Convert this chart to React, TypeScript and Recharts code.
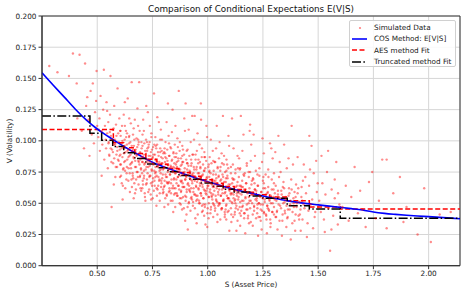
import React from "react";
import {
  ComposedChart,
  Scatter,
  Line,
  XAxis,
  YAxis,
  CartesianGrid,
  ReferenceArea,
} from "recharts";

// ---------------- data ----------------
const xTicks = [0.5, 0.75, 1.0, 1.25, 1.5, 1.75, 2.0];
const yTicks = [0, 0.025, 0.05, 0.075, 0.1, 0.125, 0.15, 0.175, 0.2];
const xDomain = [0.25, 2.142];
const yDomain = [0, 0.2];

// Simulated (S, V) points, read approximately from the cloud: wide spread
const simulatedOuter: [number, number][] = [
  [.283,.160],[.32,.155],[.372,.152],[.39,.170],[.407,.146],[.42,.169],[.445,.162],[.45,.128],[.46,.117],[.43,.108],[.47,.140],[.48,.146],[.485,.098],[.49,.123],[.497,.156],[.44,.094],[.475,.105],[.495,.132],[.465,.088],[.5,.112],[.41,.118],[.455,.135],
  [.505,.103],[.51,.118],[.512,.092],[.515,.136],[.52,.108],[.523,.097],[.527,.125],[.53,.157],[.532,.085],[.535,.112],[.538,.101],[.54,.094],[.542,.131],[.545,.106],[.548,.078],[.55,.115],[.552,.099],[.555,.088],[.558,.121],[.56,.152],[.562,.104],[.565,.047],[.567,.093],[.57,.109],[.572,.082],[.575,.097],[.577,.128],[.58,.101],[.582,.071],[.585,.113],[.587,.089],[.59,.095],[.592,.142],[.595,.106],[.597,.084],[.6,.118],[.52,.072],[.545,.124],[.575,.065],[.59,.079],
  [.602,.093],[.604,.081],[.606,.104],[.608,.072],[.61,.098],[.612,.112],[.614,.087],[.616,.064],[.618,.095],[.62,.121],[.622,.083],[.624,.101],[.626,.076],[.628,.091],[.63,.108],[.632,.069],[.634,.097],[.636,.085],[.638,.134],[.64,.093],[.642,.078],[.644,.103],[.646,.088],[.648,.059],[.65,.099],[.652,.114],[.654,.082],[.656,.147],[.658,.092],[.66,.074],[.662,.105],[.664,.087],[.666,.096],[.668,.066],[.67,.117],[.672,.084],[.674,.093],[.676,.079],[.678,.102],[.68,.089],[.682,.126],[.684,.071],[.686,.097],[.688,.083],[.69,.147],[.692,.108],[.694,.091],[.696,.062],[.698,.077],[.7,.099],[.615,.053],[.645,.118],[.665,.054],[.685,.112],[.635,.106],[.655,.069],[.675,.061],[.625,.131],[.695,.085],[.605,.089],
  [.701,.087],[.703,.074],[.705,.096],[.707,.065],[.709,.089],[.711,.108],[.713,.081],[.715,.058],[.717,.092],[.719,.077],[.721,.101],[.723,.085],[.725,.069],[.727,.094],[.729,.123],[.731,.079],[.733,.088],[.735,.061],[.737,.099],[.739,.083],[.741,.072],[.743,.091],[.745,.106],[.747,.076],[.749,.086],[.751,.054],[.753,.095],[.755,.081],[.757,.138],[.759,.068],[.761,.089],[.763,.103],[.765,.075],[.767,.084],[.769,.062],[.771,.097],[.773,.079],[.775,.091],[.777,.071],[.779,.115],[.781,.083],[.783,.058],[.785,.094],[.787,.077],[.789,.087],[.791,.066],[.793,.101],[.795,.082],[.797,.073],[.799,.09],[.708,.117],[.718,.052],[.728,.083],[.738,.112],[.748,.064],[.758,.097],[.768,.048],[.778,.081],[.788,.109],[.798,.061],[.712,.072],[.722,.128],[.732,.095],[.742,.057],[.752,.087],[.762,.074],[.772,.119],[.782,.069],[.792,.092],[.706,.083],
  [.801,.078],[.803,.091],[.805,.064],[.807,.083],[.809,.099],[.811,.071],[.813,.086],[.815,.056],[.817,.093],[.819,.075],[.821,.081],[.823,.104],[.825,.067],[.827,.088],[.829,.073],[.831,.095],[.833,.052],[.835,.079],[.837,.084],[.839,.062],[.841,.125],[.843,.076],[.845,.09],[.847,.069],[.849,.082],[.851,.097],[.853,.058],[.855,.074],[.857,.087],[.859,.066],[.861,.079],[.863,.102],[.865,.071],[.867,.084],[.869,.14],[.871,.061],[.873,.092],[.875,.077],[.877,.068],[.879,.086],[.881,.054],[.883,.081],[.885,.096],[.887,.073],[.889,.083],[.891,.063],[.893,.089],[.895,.075],[.897,.108],[.899,.069],[.804,.047],[.814,.115],[.824,.059],[.834,.094],[.844,.043],[.854,.112],[.864,.056],[.874,.099],[.884,.045],[.894,.118],[.808,.087],[.818,.066],[.828,.078],[.838,.107],[.848,.057],[.858,.09],[.868,.075],[.878,.049],[.888,.093],[.898,.036],[.82,.13],[.86,.083],[.88,.067],[.9,.13],[.85,.078],
  [.901,.072],[.903,.085],[.905,.059],[.907,.077],[.909,.093],[.911,.066],[.913,.08],[.915,.051],[.917,.088],[.919,.07],[.921,.075],[.923,.099],[.925,.062],[.927,.082],[.929,.068],[.931,.089],[.933,.048],[.935,.074],[.937,.079],[.939,.057],[.941,.12],[.943,.071],[.945,.085],[.947,.064],[.949,.077],[.951,.092],[.953,.053],[.955,.069],[.957,.082],[.959,.061],[.961,.074],[.963,.097],[.965,.066],[.967,.079],[.969,.13],[.971,.056],[.973,.087],[.975,.072],[.977,.063],[.979,.081],[.981,.049],[.983,.076],[.985,.091],[.987,.068],[.989,.078],[.991,.058],[.993,.084],[.995,.07],[.997,.103],[.999,.064],[.904,.041],[.914,.109],[.924,.054],[.934,.089],[.944,.038],[.954,.106],[.964,.05],[.974,.094],[.984,.04],[.994,.112],[.908,.082],[.918,.06],[.928,.073],[.938,.101],[.948,.052],[.958,.085],[.968,.07],[.978,.044],[.988,.087],[.998,.031],[.91,.029],[.93,.12],[.95,.034],[.97,.117],[.99,.033],
  [1.001,.067],[1.003,.079],[1.005,.055],[1.007,.071],[1.009,.087],[1.011,.061],[1.013,.074],[1.015,.047],[1.017,.082],[1.019,.065],[1.021,.069],[1.023,.092],[1.025,.057],[1.027,.076],[1.029,.063],[1.031,.083],[1.033,.044],[1.035,.068],[1.037,.073],[1.039,.052],[1.041,.112],[1.043,.066],[1.045,.079],[1.047,.059],[1.049,.071],[1.051,.086],[1.053,.049],[1.055,.064],[1.057,.076],[1.059,.056],[1.061,.069],[1.063,.09],[1.065,.061],[1.067,.073],[1.069,.12],[1.071,.052],[1.073,.081],[1.075,.067],[1.077,.058],[1.079,.075],[1.081,.045],[1.083,.07],[1.085,.085],[1.087,.063],[1.089,.072],[1.091,.054],[1.093,.078],[1.095,.065],[1.097,.096],[1.099,.06],[1.004,.038],[1.014,.101],[1.024,.05],[1.034,.083],[1.044,.035],[1.054,.099],[1.064,.046],[1.074,.088],[1.084,.037],[1.094,.104],[1.008,.076],[1.018,.056],[1.028,.068],[1.038,.094],[1.048,.048],[1.058,.079],[1.068,.065],[1.078,.041],[1.088,.081],[1.098,.028],
  [1.102,.062],[1.105,.074],[1.108,.051],[1.111,.066],[1.114,.081],[1.117,.057],[1.12,.069],[1.123,.043],[1.126,.077],[1.129,.06],[1.132,.064],[1.135,.088],[1.138,.053],[1.141,.071],[1.144,.058],[1.147,.078],[1.15,.04],[1.153,.063],[1.156,.068],[1.159,.048],[1.162,.105],[1.165,.061],[1.168,.074],[1.171,.055],[1.174,.066],[1.177,.08],[1.18,.045],[1.183,.059],[1.186,.071],[1.189,.052],[1.192,.113],[1.195,.084],[1.198,.057],[1.2,.068],[1.107,.035],[1.117,.094],[1.127,.046],[1.137,.078],[1.147,.032],[1.157,.092],[1.167,.042],[1.177,.082],[1.187,.034],[1.197,.097],[1.11,.118],[1.13,.028],[1.15,.12],[1.17,.026],[1.19,.108],[1.112,.07],[1.122,.052],[1.132,.056],[1.142,.086],[1.152,.044],[1.162,.073],[1.172,.061],[1.182,.038],[1.192,.075],[1.104,.058],[1.144,.064],
  [1.202,.057],[1.206,.069],[1.21,.047],[1.214,.061],[1.218,.076],[1.222,.052],[1.226,.064],[1.23,.039],[1.234,.072],[1.238,.055],[1.242,.059],[1.246,.083],[1.25,.049],[1.254,.066],[1.258,.053],[1.262,.073],[1.266,.037],[1.27,.058],[1.274,.063],[1.278,.044],[1.282,.098],[1.286,.056],[1.29,.069],[1.294,.05],[1.298,.061],[1.204,.032],[1.214,.088],[1.224,.042],[1.234,.078],[1.244,.029],[1.254,.09],[1.264,.041],[1.274,.077],[1.284,.031],[1.294,.086],[1.208,.105],[1.228,.024],[1.248,.102],[1.268,.026],[1.288,.094],[1.212,.066],[1.232,.05],[1.252,.071],[1.272,.046],[1.292,.043],[1.22,.06],[1.24,.045],[1.26,.062],[1.28,.052],[1.3,.074],
  [1.303,.053],[1.308,.064],[1.313,.043],[1.318,.057],[1.323,.071],[1.328,.048],[1.333,.06],[1.338,.036],[1.343,.067],[1.348,.051],[1.353,.055],[1.358,.078],[1.363,.045],[1.368,.062],[1.373,.049],[1.378,.069],[1.383,.034],[1.388,.054],[1.393,.059],[1.398,.041],[1.306,.091],[1.316,.029],[1.326,.083],[1.336,.024],[1.346,.097],[1.356,.031],[1.366,.086],[1.376,.021],[1.386,.081],[1.396,.028],[1.31,.039],[1.33,.075],[1.35,.042],[1.37,.058],[1.39,.047],[1.32,.104],[1.34,.063],[1.36,.038],[1.38,.112],[1.4,.065],
  [1.403,.05],[1.41,.062],[1.417,.041],[1.424,.055],[1.431,.068],[1.438,.046],[1.445,.058],[1.452,.034],[1.459,.064],[1.466,.049],[1.473,.053],[1.48,.074],[1.487,.043],[1.494,.059],[1.5,.047],[1.407,.087],[1.421,.028],[1.435,.081],[1.449,.023],[1.463,.077],[1.477,.03],[1.491,.084],[1.414,.037],[1.428,.052],[1.442,.071],[1.456,.044],[1.47,.096],[1.484,.039],[1.498,.066],[1.46,.104],
  [1.505,.052],[1.512,.043],[1.519,.066],[1.526,.037],[1.533,.057],[1.54,.075],[1.547,.046],[1.554,.012],[1.561,.061],[1.568,.04],[1.575,.054],[1.582,.083],[1.589,.033],[1.596,.049],[1.515,.088],[1.53,.027],[1.545,.092],[1.56,.029],[1.575,.069],[1.59,.058],
  [1.61,.047],[1.625,.064],[1.638,.036],[1.65,.055],[1.665,.079],[1.68,.042],[1.69,.06],[1.70,.045],[1.715,.031],[1.73,.067],[1.745,.075],[1.76,.038],[1.775,.052],[1.79,.085],[1.81,.03],
  [1.81,.085],[1.84,.058],[1.886,.035],[1.9,.047],[1.95,.025],[1.98,.062],[2.01,.019],[2.05,.041],[2.1,.043],[1.87,.071],
];

// Simulated (S, V) points in the dense core of the cloud
const simulatedCore: [number, number][] = [
  [.551,.098],[.554,.089],[.557,.107],[.561,.094],[.564,.083],[.567,.101],[.571,.091],[.574,.11],[.577,.086],[.581,.097],[.584,.079],[.587,.104],[.591,.092],[.594,.085],[.597,.099],[.601,.088],[.604,.108],[.607,.081],[.611,.094],[.614,.1],[.617,.077],[.621,.09],[.624,.096],[.627,.084],[.631,.103],[.634,.079],[.637,.092],[.641,.087],[.644,.098],[.647,.074],
  [.651,.089],[.653,.078],[.656,.096],[.658,.083],[.661,.072],[.663,.093],[.666,.086],[.668,.101],[.671,.079],[.673,.091],[.676,.069],[.678,.088],[.681,.095],[.683,.075],[.686,.084],[.688,.099],[.691,.081],[.693,.071],[.696,.09],[.698,.078],[.701,.094],[.703,.083],[.706,.068],[.708,.087],[.711,.076],[.713,.098],[.716,.082],[.718,.089],[.721,.065],[.723,.079],[.726,.092],[.728,.074],[.731,.085],[.733,.097],[.736,.071],[.738,.08],[.741,.088],[.743,.066],[.746,.077],[.748,.093],
  [.751,.082],[.753,.07],[.755,.089],[.758,.076],[.76,.064],[.762,.085],[.764,.079],[.767,.094],[.769,.072],[.771,.083],[.773,.061],[.776,.08],[.778,.088],[.78,.068],[.782,.076],[.785,.091],[.787,.074],[.789,.063],[.791,.082],[.794,.07],[.796,.086],[.798,.077],[.8,.059],[.803,.079],[.805,.068],[.807,.09],[.809,.073],[.812,.081],[.814,.057],[.816,.071],[.818,.084],[.821,.066],[.823,.077],[.825,.088],[.827,.062],[.83,.073],[.832,.08],[.834,.058],[.836,.069],[.839,.085],[.841,.075],[.843,.064],[.845,.079],[.848,.07],[.85,.087],
  [.852,.074],[.854,.062],[.856,.081],[.858,.069],[.861,.056],[.863,.077],[.865,.071],[.867,.086],[.869,.064],[.872,.075],[.874,.054],[.876,.072],[.878,.08],[.88,.06],[.883,.068],[.885,.083],[.887,.066],[.889,.055],[.891,.074],[.894,.063],[.896,.078],[.898,.069],[.9,.052],[.903,.071],[.905,.061],[.907,.082],[.909,.065],[.912,.073],[.914,.05],[.916,.064],[.918,.076],[.921,.059],[.923,.069],[.925,.08],[.927,.055],[.93,.066],[.932,.072],[.934,.051],[.936,.062],[.939,.077],[.941,.068],[.943,.057],[.945,.071],[.948,.063],[.95,.079],
  [.952,.067],[.954,.056],[.956,.074],[.958,.062],[.961,.05],[.963,.07],[.965,.064],[.967,.078],[.969,.058],[.972,.068],[.974,.048],[.976,.065],[.978,.073],[.98,.054],[.983,.061],[.985,.076],[.987,.06],[.989,.049],[.991,.067],[.994,.057],[.996,.071],[.998,.062],[1.0,.046],[1.003,.064],[1.005,.055],[1.007,.075],[1.009,.059],[1.012,.066],[1.014,.045],[1.016,.058],[1.018,.069],[1.021,.053],[1.023,.063],[1.025,.073],[1.027,.049],[1.03,.06],[1.032,.065],[1.034,.046],[1.036,.056],[1.039,.07],[1.041,.062],[1.043,.051],[1.045,.064],[1.048,.057],[1.05,.072],
  [1.052,.061],[1.055,.05],[1.057,.068],[1.06,.056],[1.062,.045],[1.065,.064],[1.067,.058],[1.07,.071],[1.072,.053],[1.075,.062],[1.077,.043],[1.08,.059],[1.082,.067],[1.085,.049],[1.087,.056],[1.09,.07],[1.092,.054],[1.095,.044],[1.097,.061],[1.1,.052],[1.102,.065],[1.105,.057],[1.107,.041],[1.11,.058],[1.112,.05],[1.115,.069],[1.117,.054],[1.12,.06],[1.122,.041],[1.125,.053],[1.127,.063],[1.13,.048],[1.132,.058],[1.135,.067],[1.137,.045],[1.14,.055],[1.142,.06],[1.145,.042],[1.147,.051],[1.15,.064],
  [1.153,.057],[1.156,.047],[1.159,.063],[1.162,.052],[1.165,.042],[1.168,.06],[1.171,.054],[1.174,.066],[1.177,.049],[1.18,.058],[1.183,.04],[1.186,.055],[1.189,.062],[1.192,.046],[1.195,.052],[1.198,.065],[1.201,.05],[1.204,.041],[1.207,.057],[1.21,.048],[1.213,.061],[1.216,.053],[1.219,.038],[1.222,.054],[1.225,.046],[1.228,.064],[1.231,.05],[1.234,.056],[1.237,.039],[1.24,.049],[1.243,.059],[1.246,.044],[1.249,.054],[1.252,.062],[1.255,.042],
  [1.258,.051],[1.262,.057],[1.265,.04],[1.269,.048],[1.272,.059],[1.276,.045],[1.279,.053],[1.283,.037],[1.286,.05],[1.29,.061],[1.293,.043],[1.297,.055],[1.3,.047],[1.304,.058],[1.307,.039],[1.311,.052],[1.314,.044],[1.318,.06],[1.321,.049],[1.325,.036],[1.328,.054],[1.332,.046],[1.335,.057],[1.339,.041],[1.342,.05],[1.346,.062],[1.349,.044],[1.353,.053],
  [1.357,.048],[1.362,.039],[1.366,.056],[1.371,.045],[1.375,.052],[1.38,.061],[1.384,.043],[1.389,.05],[1.393,.036],[1.398,.055],[1.402,.047],[1.407,.058],[1.411,.04],[1.416,.051],[1.42,.045],[1.425,.063],[1.429,.037],[1.434,.049],
];

// Simulated (S, V) points filling the band just below and above the core
const simulatedFill: [number, number][] = [
  [.603,.071],[.611,.066],[.619,.078],[.627,.062],[.633,.074],[.641,.068],[.649,.081],[.657,.063],[.663,.07],[.671,.058],[.679,.075],[.687,.065],[.694,.072],[.699,.06],
  [.704,.062],[.711,.07],[.716,.055],[.724,.066],[.731,.059],[.737,.072],[.744,.053],[.75,.067],[.756,.06],[.763,.071],[.77,.056],[.776,.064],[.783,.052],[.79,.068],[.797,.058],
  [.802,.063],[.808,.054],[.815,.067],[.821,.049],[.828,.06],[.834,.066],[.841,.052],[.847,.062],[.853,.047],[.86,.058],[.866,.064],[.873,.05],[.879,.059],[.886,.063],[.892,.046],[.898,.056],
  [.903,.055],[.909,.047],[.916,.061],[.922,.044],[.929,.053],[.935,.059],[.942,.046],[.948,.056],[.955,.041],[.961,.052],[.968,.058],[.974,.043],[.981,.054],[.987,.047],[.994,.06],[.999,.042],
  [1.005,.05],[1.012,.042],[1.018,.055],[1.025,.039],[1.031,.048],[1.038,.053],[1.044,.041],[1.051,.05],[1.057,.037],[1.064,.046],[1.07,.052],[1.077,.039],[1.083,.048],[1.09,.043],[1.096,.054],
  [1.105,.046],[1.115,.039],[1.125,.05],[1.135,.036],[1.145,.047],[1.155,.052],[1.165,.038],[1.175,.045],[1.185,.05],[1.195,.035],[1.21,.044],[1.225,.049],[1.24,.036],[1.255,.043],[1.27,.048],[1.285,.034],[1.3,.041],
  [.605,.108],[.625,.112],[.645,.104],[.665,.11],[.685,.101],[.705,.105],[.725,.099],[.745,.103],[.765,.096],[.785,.101],[.805,.094],[.825,.098],[.845,.091],[.865,.095],[.885,.088],[.905,.092],[.925,.085],[.945,.089],[.965,.083],[.985,.087],[1.005,.081],[1.025,.084],[1.045,.078],[1.065,.082],[1.085,.076],[1.105,.079],[1.125,.074],[1.145,.077],[1.165,.072],[1.185,.075],[1.205,.07],[1.225,.073],[1.25,.068],[1.275,.071],[1.3,.066],
];

// COS method E[V|S] curve
const cosS = [0.25,0.30,0.35,0.40,0.45,0.50,0.55,0.60,0.65,0.70,0.75,0.80,0.85,0.90,0.95,1.00,1.05,1.10,1.15,1.20,1.25,1.30,1.35,1.40,1.45,1.50,1.55,1.60,1.65,1.70,1.75,1.80,1.85,1.90,1.95,2.00,2.05,2.10,2.142];
const cosV = [.1546,.1448,.1352,.1255,.1168,.1095,.1035,.0978,.0925,.0876,.0828,.0792,.0760,.0730,.0700,.0673,.0646,.0620,.0598,.0578,.0558,.0540,.0524,.0509,.0497,.0487,.0477,.0467,.0457,.0446,.0430,.0419,.0411,.0404,.0398,.0393,.0387,.0381,.0376];

// AES method fit (piecewise constant, bin start S -> value)
const aesS = [0.25,0.573,0.62,0.67,0.72,0.77,0.82,0.87,0.92,0.97,1.02,1.07,1.12,1.17,1.22,1.28,1.36,1.46,1.60,2.142];
const aesV = [.109,.0985,.0945,.0898,.0853,.0812,.0778,.0747,.0717,.0688,.0660,.0634,.0610,.0588,.0568,.0550,.0520,.0470,.0455,.0455];

// Truncated method fit (piecewise constant)
const truncS = [0.25,0.467,0.52,0.57,0.62,0.67,0.72,0.77,0.82,0.87,0.92,0.97,1.02,1.07,1.12,1.19,1.25,1.36,1.46,1.60,2.142];
const truncV = [.120,.106,.1005,.0955,.0905,.0858,.0815,.0785,.0752,.0722,.0692,.0663,.0637,.0612,.0590,.0558,.0540,.0480,.0455,.0380,.0380];

const simData = [...simulatedOuter, ...simulatedCore, ...simulatedFill].map(([s, v]) => ({ s, v }));
const cosData = cosS.map((s, i) => ({ s, v: cosV[i] }));
const aesData = aesS.map((s, i) => ({ s, v: aesV[i] }));
const truncData = truncS.map((s, i) => ({ s, v: truncV[i] }));

const FONT = "DejaVu Sans, sans-serif";
const TICK = { fontSize: 7.3, fill: "#222", fontFamily: FONT };

const Dot = (props: any) => {
  const { cx, cy } = props;
  if (cx == null || cy == null) return null;
  return <circle cx={cx} cy={cy} r={1.2} fill="#ff0000" fillOpacity={0.45} />;
};

const legendItems = [
  { label: "Simulated Data", kind: "dot" },
  { label: "COS Method: E[V|S]", kind: "blue" },
  { label: "AES method Fit", kind: "red" },
  { label: "Truncated method Fit", kind: "black" },
];

const Handle = ({ kind }: { kind: string }) => (
  <svg width={16} height={8} style={{ display: "block" }}>
    {kind === "dot" && <circle cx={8} cy={4} r={1.1} fill="#ff0000" fillOpacity={0.5} />}
    {kind === "blue" && <line x1={0} y1={4} x2={15} y2={4} stroke="#0000ff" strokeWidth={1.6} />}
    {kind === "red" && <line x1={0} y1={4} x2={15} y2={4} stroke="#ff0000" strokeWidth={1.5} strokeDasharray="5 2.5" />}
    {kind === "black" && <line x1={0} y1={4} x2={15} y2={4} stroke="#000" strokeWidth={1.5} strokeDasharray="9 2.4 1.5 2.4" />}
  </svg>
);

export default function App() {
  return (
    <div style={{ position: "absolute", left: 0, top: 0, width: 465, height: 294, background: "#fff", fontFamily: FONT }}>
      <ComposedChart width={465} height={294} margin={{ top: 16, right: 5, bottom: 0, left: 0 }}>
        <CartesianGrid stroke="#d6d6d6" strokeWidth={1} />
        <XAxis
          type="number"
          dataKey="s"
          domain={xDomain}
          ticks={xTicks}
          allowDataOverflow
          tickFormatter={(v: number) => v.toFixed(2)}
          height={28.3}
          tickSize={3.5}
          tickMargin={1.5}
          stroke="#333"
          tick={TICK}
        />
        <YAxis
          type="number"
          dataKey="v"
          domain={yDomain}
          ticks={yTicks}
          allowDataOverflow
          tickFormatter={(v: number) => v.toFixed(3)}
          width={42}
          tickSize={3.5}
          tickMargin={2}
          stroke="#333"
          tick={TICK}
        />
        <ReferenceArea x1={xDomain[0]} x2={xDomain[1]} y1={yDomain[0]} y2={yDomain[1]} fill="none" stroke="#333" strokeWidth={1} ifOverflow="visible" />
        <Scatter data={simData} dataKey="v" shape={Dot} isAnimationActive={false} />
        <Line data={aesData} dataKey="v" type="stepAfter" stroke="#ff0000" strokeWidth={1.5} strokeDasharray="5 2.5" dot={false} isAnimationActive={false} />
        <Line data={cosData} dataKey="v" type="monotone" stroke="#0000ff" strokeWidth={1.6} dot={false} isAnimationActive={false} />
        <Line data={truncData} dataKey="v" type="stepAfter" stroke="#000000" strokeWidth={1.5} strokeDasharray="9 2.4 1.5 2.4" dot={false} isAnimationActive={false} />
      </ComposedChart>

      <div style={{ position: "absolute", left: 42, width: 418, top: 3, textAlign: "center", fontSize: 8.8, lineHeight: "12px", color: "#111" }}>
        Comparison of Conditional Expectations E(V|S)
      </div>
      <div style={{ position: "absolute", left: 42, width: 418, top: 279, textAlign: "center", fontSize: 7.3, lineHeight: "12px", color: "#222" }}>
        S (Asset Price)
      </div>
      <div
        style={{
          position: "absolute",
          left: 10,
          top: 141,
          transform: "translate(-50%, -50%) rotate(-90deg)",
          fontSize: 7.3,
          lineHeight: "10px",
          whiteSpace: "nowrap",
          color: "#222",
        }}
      >
        V (Volatility)
      </div>

      <div
        style={{
          position: "absolute",
          left: 349,
          top: 20,
          width: 105,
          height: 45,
          border: "1px solid #d0d0d0",
          borderRadius: 2,
          background: "rgba(255,255,255,0.85)",
          fontSize: 7.3,
          color: "#222",
        }}
      >
        {legendItems.map((it, i) => (
          <div key={it.label} style={{ position: "absolute", left: 2, top: 1 + i * 11.4, height: 11, display: "flex", alignItems: "center" }}>
            <Handle kind={it.kind} />
            <span style={{ marginLeft: 6, whiteSpace: "nowrap", lineHeight: "11px" }}>{it.label}</span>
          </div>
        ))}
      </div>
    </div>
  );
}
